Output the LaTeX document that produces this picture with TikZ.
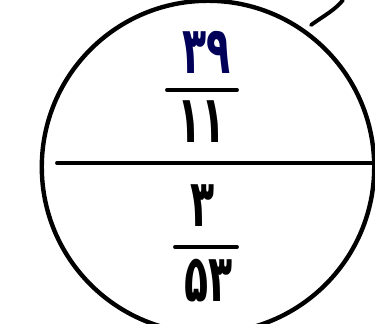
\documentclass[tikz,border=0pt]{standalone}
\usepackage{graphicx}
\usepackage{fontspec}
\newfontfamily\farsifont[Script=Arabic]{DejaVu Sans}
\usetikzlibrary{positioning}
\newcommand{\hdigits}[1]{\scalebox{0.75}[1.25]{#1}}

\begin{document}
\begin{tikzpicture}[
  x=0.02cm,y=-0.02cm,
  line cap=round,
  num/.style={inner sep=0pt,font=\farsifont\bfseries\fontsize{30}{30}\selectfont},
  bar/.style={draw=black,line width=2.2pt}]
\useasboundingbox (0,0) rectangle (375,324);

\node[draw,circle,line width=2.5pt,minimum size=6.65cm,inner sep=0pt] (disc) at (208,167) {};
\coordinate (cutl) at (57,163);
\coordinate (cutr) at (375,163);
\draw[bar] (cutl) -- (cutr);

% upper fraction
\node[num,text=blue!35!black] (topnum) at (207,52) {\hdigits{۳۹}};
\draw[bar] (167,90) -- (237,90);
\node[num] (topden) at (202,122) {\hdigits{۱۱}};

% lower fraction
\node[num] (lownum) at (203,206) {\hdigits{۳}};
\draw[bar] (175,247) -- (237,247);
\node[num] (lowden) at (209,281) {\hdigits{۵۳}};

% tick at the rim
\coordinate (ticka) at (311,25);
\coordinate (tickb) at (343,0);
\draw[bar] (ticka) .. controls (325,15) and (335,10) .. (tickb);
\end{tikzpicture}
\end{document}
